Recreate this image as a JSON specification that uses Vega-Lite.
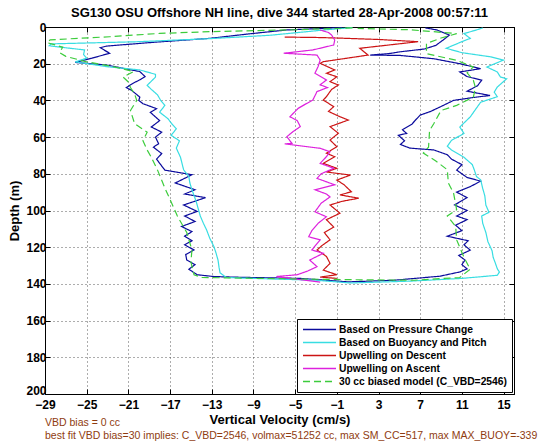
{
  "$schema": "https://vega.github.io/schema/vega-lite/v6.json",
  "width": 469,
  "height": 367,
  "autosize": {"type": "none"},
  "padding": {"left": 45, "top": 27, "right": 46, "bottom": 48},
  "background": "white",
  "title": {"text": "SG130 OSU Offshore NH line, dive 344 started 28-Apr-2008 00:57:11", "font": "Liberation Sans", "fontSize": 13, "fontWeight": "bold", "color": "black", "anchor": "middle", "frame": "group", "offset": 1},
  "config": {
    "view": {"stroke": "black", "strokeWidth": 1},
    "axis": {"labelFont": "Liberation Sans", "labelFontSize": 12, "labelFontWeight": "bold", "labelColor": "black", "titleFont": "Liberation Sans", "titleFontSize": 13, "titleFontWeight": "bold", "titleColor": "black", "domainColor": "black", "tickColor": "black", "tickSize": -5, "labelFlush": false, "labelOverlap": false, "gridColor": "#333333", "gridDash": [1, 3], "gridOpacity": 0.8},
    "legend": {"orient": "bottom-right", "offset": 2, "strokeColor": "black", "fillColor": "white", "padding": 5, "labelFont": "Liberation Sans", "labelFontSize": 10.3, "labelFontWeight": "bold", "labelColor": "black", "symbolType": "stroke", "symbolSize": 1089, "symbolStrokeWidth": 1.5, "clipHeight": 11, "rowPadding": 2, "labelOffset": 2, "labelLimit": 400}
  },
  "resolve": {"axis": {"x": "independent", "y": "independent"}},
  "layer": [
    {
      "mark": {"type": "rule", "color": "black", "strokeWidth": 1},
      "encoding": {"x": {"datum": 0, "type": "quantitative", "axis": null}}
    },
    {
      "mark": {"type": "rule", "color": "black", "strokeWidth": 1, "strokeDash": [7, 4]},
      "encoding": {"x": {"datum": -27.2, "type": "quantitative", "axis": null}}
    },
    {
      "data": {"values": [
        {"s":"Based on Pressure Change","w":-0.5,"d":0.3},{"s":"Based on Pressure Change","w":-2.5,"d":0.8},{"s":"Based on Pressure Change","w":-5.8,"d":1.6},{"s":"Based on Pressure Change","w":-9.5,"d":3.8},{"s":"Based on Pressure Change","w":-13.2,"d":6.2},{"s":"Based on Pressure Change","w":-18.5,"d":8.3},{"s":"Based on Pressure Change","w":-23.1,"d":10.4},{"s":"Based on Pressure Change","w":-23.7,"d":11.3},{"s":"Based on Pressure Change","w":-22.8,"d":14.3},{"s":"Based on Pressure Change","w":-24.5,"d":17},{"s":"Based on Pressure Change","w":-26.1,"d":19.3},{"s":"Based on Pressure Change","w":-23.1,"d":20.7},{"s":"Based on Pressure Change","w":-21.5,"d":22.5},{"s":"Based on Pressure Change","w":-19.9,"d":24.3},{"s":"Based on Pressure Change","w":-19.4,"d":27},{"s":"Based on Pressure Change","w":-19.8,"d":28.5},{"s":"Based on Pressure Change","w":-20.5,"d":30.5},{"s":"Based on Pressure Change","w":-21.2,"d":33},{"s":"Based on Pressure Change","w":-20.7,"d":34.5},{"s":"Based on Pressure Change","w":-19.9,"d":38.2},{"s":"Based on Pressure Change","w":-20.0,"d":40},{"s":"Based on Pressure Change","w":-19.6,"d":41.8},{"s":"Based on Pressure Change","w":-18.3,"d":44.5},{"s":"Based on Pressure Change","w":-18.9,"d":46.5},{"s":"Based on Pressure Change","w":-18.6,"d":48},{"s":"Based on Pressure Change","w":-18.0,"d":51},{"s":"Based on Pressure Change","w":-18.8,"d":54.5},{"s":"Based on Pressure Change","w":-17.8,"d":57.3},{"s":"Based on Pressure Change","w":-18.4,"d":60},{"s":"Based on Pressure Change","w":-18.1,"d":63.6},{"s":"Based on Pressure Change","w":-18.6,"d":65.5},{"s":"Based on Pressure Change","w":-17.8,"d":69},{"s":"Based on Pressure Change","w":-18.3,"d":72},{"s":"Based on Pressure Change","w":-17.9,"d":75},{"s":"Based on Pressure Change","w":-17.5,"d":78},{"s":"Based on Pressure Change","w":-14.9,"d":80.5},{"s":"Based on Pressure Change","w":-16.5,"d":85},{"s":"Based on Pressure Change","w":-14.6,"d":88.7},{"s":"Based on Pressure Change","w":-15.6,"d":91},{"s":"Based on Pressure Change","w":-13.6,"d":93},{"s":"Based on Pressure Change","w":-15.7,"d":97},{"s":"Based on Pressure Change","w":-14.4,"d":100.5},{"s":"Based on Pressure Change","w":-15.6,"d":103},{"s":"Based on Pressure Change","w":-14.6,"d":106},{"s":"Based on Pressure Change","w":-15.9,"d":108.7},{"s":"Based on Pressure Change","w":-14.9,"d":111.5},{"s":"Based on Pressure Change","w":-15.6,"d":114},{"s":"Based on Pressure Change","w":-14.9,"d":116.5},{"s":"Based on Pressure Change","w":-15.6,"d":118.7},{"s":"Based on Pressure Change","w":-14.7,"d":121.5},{"s":"Based on Pressure Change","w":-15.5,"d":124},{"s":"Based on Pressure Change","w":-15.4,"d":127},{"s":"Based on Pressure Change","w":-14.6,"d":129.5},{"s":"Based on Pressure Change","w":-15.2,"d":132},{"s":"Based on Pressure Change","w":-14.4,"d":135},{"s":"Based on Pressure Change","w":-12.8,"d":136},{"s":"Based on Pressure Change","w":-10.2,"d":136.4},{"s":"Based on Pressure Change","w":-4.5,"d":137},{"s":"Based on Pressure Change","w":0.1,"d":138.9},{"s":"Based on Pressure Change","w":4.5,"d":138},{"s":"Based on Pressure Change","w":8.9,"d":135.8},{"s":"Based on Pressure Change","w":10.8,"d":133.5},{"s":"Based on Pressure Change","w":11.5,"d":131.8},{"s":"Based on Pressure Change","w":11.0,"d":129.5},{"s":"Based on Pressure Change","w":11.3,"d":127},{"s":"Based on Pressure Change","w":10.7,"d":124.5},{"s":"Based on Pressure Change","w":11.8,"d":121.6},{"s":"Based on Pressure Change","w":11.2,"d":118.7},{"s":"Based on Pressure Change","w":11.6,"d":116.5},{"s":"Based on Pressure Change","w":9.6,"d":114},{"s":"Based on Pressure Change","w":11.0,"d":111},{"s":"Based on Pressure Change","w":10.4,"d":108},{"s":"Based on Pressure Change","w":11.5,"d":105},{"s":"Based on Pressure Change","w":10.5,"d":103},{"s":"Based on Pressure Change","w":11.5,"d":100},{"s":"Based on Pressure Change","w":10.3,"d":97},{"s":"Based on Pressure Change","w":11.5,"d":93},{"s":"Based on Pressure Change","w":10.5,"d":90},{"s":"Based on Pressure Change","w":11.8,"d":87},{"s":"Based on Pressure Change","w":12.8,"d":84},{"s":"Based on Pressure Change","w":11.5,"d":82},{"s":"Based on Pressure Change","w":10.5,"d":78},{"s":"Based on Pressure Change","w":11.0,"d":75},{"s":"Based on Pressure Change","w":10.0,"d":72},{"s":"Based on Pressure Change","w":9.6,"d":69.6},{"s":"Based on Pressure Change","w":8.3,"d":67},{"s":"Based on Pressure Change","w":6.0,"d":66},{"s":"Based on Pressure Change","w":5.1,"d":64},{"s":"Based on Pressure Change","w":5.5,"d":62},{"s":"Based on Pressure Change","w":4.9,"d":59},{"s":"Based on Pressure Change","w":5.7,"d":58},{"s":"Based on Pressure Change","w":5.3,"d":56},{"s":"Based on Pressure Change","w":6.2,"d":53},{"s":"Based on Pressure Change","w":6.5,"d":51},{"s":"Based on Pressure Change","w":7.0,"d":48},{"s":"Based on Pressure Change","w":8.0,"d":46},{"s":"Based on Pressure Change","w":8.9,"d":43.6},{"s":"Based on Pressure Change","w":10.2,"d":40},{"s":"Based on Pressure Change","w":12.0,"d":38.5},{"s":"Based on Pressure Change","w":13.7,"d":37.3},{"s":"Based on Pressure Change","w":11.5,"d":35},{"s":"Based on Pressure Change","w":12.5,"d":32},{"s":"Based on Pressure Change","w":12.9,"d":29},{"s":"Based on Pressure Change","w":11.5,"d":27},{"s":"Based on Pressure Change","w":10.8,"d":24.5},{"s":"Based on Pressure Change","w":12.8,"d":22.7},{"s":"Based on Pressure Change","w":10.8,"d":20},{"s":"Based on Pressure Change","w":8.3,"d":17.3},{"s":"Based on Pressure Change","w":5.1,"d":15.5},{"s":"Based on Pressure Change","w":2.2,"d":15.3},{"s":"Based on Pressure Change","w":4.0,"d":14.5},{"s":"Based on Pressure Change","w":5.1,"d":13.5},{"s":"Based on Pressure Change","w":7.4,"d":12},{"s":"Based on Pressure Change","w":8.5,"d":10},{"s":"Based on Pressure Change","w":9.2,"d":7.1},{"s":"Based on Pressure Change","w":9.8,"d":4.4},{"s":"Based on Pressure Change","w":8.6,"d":1.6},{"s":"Based on Pressure Change","w":7.5,"d":0.5},

        {"s":"Based on Buoyancy and Pitch","w":0.5,"d":0.3},{"s":"Based on Buoyancy and Pitch","w":-2,"d":1.5},{"s":"Based on Buoyancy and Pitch","w":-7.4,"d":4.5},{"s":"Based on Buoyancy and Pitch","w":-13,"d":6.3},{"s":"Based on Buoyancy and Pitch","w":-20,"d":8},{"s":"Based on Buoyancy and Pitch","w":-28.4,"d":9.2},{"s":"Based on Buoyancy and Pitch","w":-28.6,"d":10.2},{"s":"Based on Buoyancy and Pitch","w":-27.5,"d":11},{"s":"Based on Buoyancy and Pitch","w":-25.2,"d":12.5},{"s":"Based on Buoyancy and Pitch","w":-25.3,"d":15},{"s":"Based on Buoyancy and Pitch","w":-25,"d":17},{"s":"Based on Buoyancy and Pitch","w":-26.1,"d":19},{"s":"Based on Buoyancy and Pitch","w":-23.1,"d":21.6},{"s":"Based on Buoyancy and Pitch","w":-19.9,"d":23.4},{"s":"Based on Buoyancy and Pitch","w":-18.4,"d":25.8},{"s":"Based on Buoyancy and Pitch","w":-18.4,"d":27.3},{"s":"Based on Buoyancy and Pitch","w":-19.2,"d":31.8},{"s":"Based on Buoyancy and Pitch","w":-18.8,"d":34},{"s":"Based on Buoyancy and Pitch","w":-18.2,"d":37},{"s":"Based on Buoyancy and Pitch","w":-17.9,"d":40},{"s":"Based on Buoyancy and Pitch","w":-17.5,"d":42.7},{"s":"Based on Buoyancy and Pitch","w":-18.0,"d":46.4},{"s":"Based on Buoyancy and Pitch","w":-17.2,"d":50},{"s":"Based on Buoyancy and Pitch","w":-16.8,"d":53},{"s":"Based on Buoyancy and Pitch","w":-16.4,"d":55.5},{"s":"Based on Buoyancy and Pitch","w":-16.9,"d":59},{"s":"Based on Buoyancy and Pitch","w":-16.1,"d":62},{"s":"Based on Buoyancy and Pitch","w":-16.4,"d":66},{"s":"Based on Buoyancy and Pitch","w":-16.0,"d":71},{"s":"Based on Buoyancy and Pitch","w":-15.7,"d":77.8},{"s":"Based on Buoyancy and Pitch","w":-15.2,"d":81.5},{"s":"Based on Buoyancy and Pitch","w":-15.1,"d":85},{"s":"Based on Buoyancy and Pitch","w":-14.9,"d":88.7},{"s":"Based on Buoyancy and Pitch","w":-14.5,"d":95},{"s":"Based on Buoyancy and Pitch","w":-14.3,"d":99},{"s":"Based on Buoyancy and Pitch","w":-14.1,"d":103},{"s":"Based on Buoyancy and Pitch","w":-13.8,"d":107},{"s":"Based on Buoyancy and Pitch","w":-13.5,"d":110.5},{"s":"Based on Buoyancy and Pitch","w":-13.2,"d":115},{"s":"Based on Buoyancy and Pitch","w":-12.8,"d":119.6},{"s":"Based on Buoyancy and Pitch","w":-12.6,"d":123},{"s":"Based on Buoyancy and Pitch","w":-12.4,"d":127},{"s":"Based on Buoyancy and Pitch","w":-12.3,"d":131},{"s":"Based on Buoyancy and Pitch","w":-12.2,"d":134},{"s":"Based on Buoyancy and Pitch","w":-11.6,"d":136.5},{"s":"Based on Buoyancy and Pitch","w":-10.2,"d":136.8},{"s":"Based on Buoyancy and Pitch","w":-3,"d":138},{"s":"Based on Buoyancy and Pitch","w":0.3,"d":139.5},{"s":"Based on Buoyancy and Pitch","w":6,"d":138.5},{"s":"Based on Buoyancy and Pitch","w":11,"d":137},{"s":"Based on Buoyancy and Pitch","w":14.4,"d":135.3},{"s":"Based on Buoyancy and Pitch","w":14.6,"d":133.5},{"s":"Based on Buoyancy and Pitch","w":14.4,"d":131.8},{"s":"Based on Buoyancy and Pitch","w":14.2,"d":128.5},{"s":"Based on Buoyancy and Pitch","w":14.0,"d":125.5},{"s":"Based on Buoyancy and Pitch","w":13.9,"d":122},{"s":"Based on Buoyancy and Pitch","w":13.5,"d":117},{"s":"Based on Buoyancy and Pitch","w":13.3,"d":112},{"s":"Based on Buoyancy and Pitch","w":13.0,"d":107},{"s":"Based on Buoyancy and Pitch","w":12.9,"d":103},{"s":"Based on Buoyancy and Pitch","w":13.6,"d":101},{"s":"Based on Buoyancy and Pitch","w":13.3,"d":97},{"s":"Based on Buoyancy and Pitch","w":13.2,"d":92},{"s":"Based on Buoyancy and Pitch","w":13.0,"d":88},{"s":"Based on Buoyancy and Pitch","w":12.8,"d":83.3},{"s":"Based on Buoyancy and Pitch","w":12.4,"d":81.5},{"s":"Based on Buoyancy and Pitch","w":12.2,"d":78},{"s":"Based on Buoyancy and Pitch","w":12.0,"d":75},{"s":"Based on Buoyancy and Pitch","w":11.2,"d":71},{"s":"Based on Buoyancy and Pitch","w":10.0,"d":67},{"s":"Based on Buoyancy and Pitch","w":9.6,"d":65},{"s":"Based on Buoyancy and Pitch","w":10.0,"d":61.8},{"s":"Based on Buoyancy and Pitch","w":11.2,"d":58},{"s":"Based on Buoyancy and Pitch","w":10.8,"d":54.5},{"s":"Based on Buoyancy and Pitch","w":11.8,"d":49},{"s":"Based on Buoyancy and Pitch","w":12.3,"d":45},{"s":"Based on Buoyancy and Pitch","w":12.8,"d":41},{"s":"Based on Buoyancy and Pitch","w":14.4,"d":38},{"s":"Based on Buoyancy and Pitch","w":14.1,"d":35.5},{"s":"Based on Buoyancy and Pitch","w":14.4,"d":32.7},{"s":"Based on Buoyancy and Pitch","w":15.3,"d":28.2},{"s":"Based on Buoyancy and Pitch","w":14.7,"d":27.3},{"s":"Based on Buoyancy and Pitch","w":14.4,"d":24.5},{"s":"Based on Buoyancy and Pitch","w":13.4,"d":21.8},{"s":"Based on Buoyancy and Pitch","w":15.0,"d":18},{"s":"Based on Buoyancy and Pitch","w":13.7,"d":16.2},{"s":"Based on Buoyancy and Pitch","w":11.0,"d":14},{"s":"Based on Buoyancy and Pitch","w":9.5,"d":11.6},{"s":"Based on Buoyancy and Pitch","w":11.0,"d":8},{"s":"Based on Buoyancy and Pitch","w":11.8,"d":6.2},{"s":"Based on Buoyancy and Pitch","w":11.2,"d":3.6},{"s":"Based on Buoyancy and Pitch","w":12.4,"d":1.6},{"s":"Based on Buoyancy and Pitch","w":13.0,"d":0.5},

        {"s":"Upwelling on Descent","w":-6,"d":5.5},{"s":"Upwelling on Descent","w":-3,"d":5.7},{"s":"Upwelling on Descent","w":-1,"d":6},{"s":"Upwelling on Descent","w":3,"d":6.8},{"s":"Upwelling on Descent","w":6.8,"d":8},{"s":"Upwelling on Descent","w":4,"d":9.8},{"s":"Upwelling on Descent","w":1.2,"d":11.6},{"s":"Upwelling on Descent","w":2.0,"d":15.3},{"s":"Upwelling on Descent","w":-2.3,"d":18.9},{"s":"Upwelling on Descent","w":-2.6,"d":19.8},{"s":"Upwelling on Descent","w":-1.2,"d":23.4},{"s":"Upwelling on Descent","w":-2.0,"d":25.2},{"s":"Upwelling on Descent","w":-1.0,"d":27.1},{"s":"Upwelling on Descent","w":-1.65,"d":29.8},{"s":"Upwelling on Descent","w":-0.85,"d":31.6},{"s":"Upwelling on Descent","w":-1.5,"d":34},{"s":"Upwelling on Descent","w":-2.0,"d":38},{"s":"Upwelling on Descent","w":-2.3,"d":39.8},{"s":"Upwelling on Descent","w":-1.3,"d":43.4},{"s":"Upwelling on Descent","w":-1.8,"d":46},{"s":"Upwelling on Descent","w":-0.7,"d":48.9},{"s":"Upwelling on Descent","w":0.1,"d":50.7},{"s":"Upwelling on Descent","w":-1.65,"d":54.3},{"s":"Upwelling on Descent","w":-0.85,"d":57.9},{"s":"Upwelling on Descent","w":-1.65,"d":61.6},{"s":"Upwelling on Descent","w":-1.0,"d":65.2},{"s":"Upwelling on Descent","w":-2.0,"d":68.8},{"s":"Upwelling on Descent","w":-1.2,"d":70.7},{"s":"Upwelling on Descent","w":-2.3,"d":74.3},{"s":"Upwelling on Descent","w":-1.0,"d":77},{"s":"Upwelling on Descent","w":-2.0,"d":79},{"s":"Upwelling on Descent","w":0.3,"d":80.7},{"s":"Upwelling on Descent","w":-1.0,"d":83.4},{"s":"Upwelling on Descent","w":-0.3,"d":86},{"s":"Upwelling on Descent","w":0.4,"d":89.8},{"s":"Upwelling on Descent","w":-0.7,"d":91.5},{"s":"Upwelling on Descent","w":1.1,"d":93.3},{"s":"Upwelling on Descent","w":-0.5,"d":95},{"s":"Upwelling on Descent","w":-1.65,"d":97},{"s":"Upwelling on Descent","w":-0.7,"d":101.5},{"s":"Upwelling on Descent","w":-2.0,"d":105},{"s":"Upwelling on Descent","w":-1.3,"d":109},{"s":"Upwelling on Descent","w":-2.2,"d":112},{"s":"Upwelling on Descent","w":-1.65,"d":116},{"s":"Upwelling on Descent","w":-2.4,"d":119},{"s":"Upwelling on Descent","w":-2.9,"d":121.5},{"s":"Upwelling on Descent","w":-2.0,"d":125},{"s":"Upwelling on Descent","w":-1.65,"d":128.8},{"s":"Upwelling on Descent","w":-2.3,"d":132.5},{"s":"Upwelling on Descent","w":-1.0,"d":135},{"s":"Upwelling on Descent","w":-2.6,"d":136.3},{"s":"Upwelling on Descent","w":-1.0,"d":137},

        {"s":"Upwelling on Ascent","w":-2.6,"d":1.6},{"s":"Upwelling on Ascent","w":-1.8,"d":3},{"s":"Upwelling on Ascent","w":-1.5,"d":4.4},{"s":"Upwelling on Ascent","w":-1.2,"d":7.1},{"s":"Upwelling on Ascent","w":-1.3,"d":9.8},{"s":"Upwelling on Ascent","w":-3.3,"d":12.5},{"s":"Upwelling on Ascent","w":-6.1,"d":14.3},{"s":"Upwelling on Ascent","w":-4.5,"d":14.8},{"s":"Upwelling on Ascent","w":-2.9,"d":15.3},{"s":"Upwelling on Ascent","w":-2.6,"d":18},{"s":"Upwelling on Ascent","w":-2.8,"d":21.6},{"s":"Upwelling on Ascent","w":-3.1,"d":25.2},{"s":"Upwelling on Ascent","w":-2.0,"d":28.9},{"s":"Upwelling on Ascent","w":-2.6,"d":31.5},{"s":"Upwelling on Ascent","w":-1.9,"d":33},{"s":"Upwelling on Ascent","w":-2.9,"d":35.2},{"s":"Upwelling on Ascent","w":-3.3,"d":39.8},{"s":"Upwelling on Ascent","w":-4.0,"d":42},{"s":"Upwelling on Ascent","w":-4.7,"d":44.3},{"s":"Upwelling on Ascent","w":-5.5,"d":48.9},{"s":"Upwelling on Ascent","w":-4.8,"d":51},{"s":"Upwelling on Ascent","w":-4.5,"d":54.3},{"s":"Upwelling on Ascent","w":-5.2,"d":57},{"s":"Upwelling on Ascent","w":-5.8,"d":59.8},{"s":"Upwelling on Ascent","w":-5.3,"d":63.4},{"s":"Upwelling on Ascent","w":-6.0,"d":63.7},{"s":"Upwelling on Ascent","w":-2.6,"d":66.1},{"s":"Upwelling on Ascent","w":-1.65,"d":68},{"s":"Upwelling on Ascent","w":-2.0,"d":70.7},{"s":"Upwelling on Ascent","w":-2.6,"d":74.3},{"s":"Upwelling on Ascent","w":-1.3,"d":77},{"s":"Upwelling on Ascent","w":-2.5,"d":80},{"s":"Upwelling on Ascent","w":-2.9,"d":82.5},{"s":"Upwelling on Ascent","w":-1.2,"d":86},{"s":"Upwelling on Ascent","w":-3.1,"d":88.7},{"s":"Upwelling on Ascent","w":-2.0,"d":91},{"s":"Upwelling on Ascent","w":-1.65,"d":92.6},{"s":"Upwelling on Ascent","w":-2.5,"d":96},{"s":"Upwelling on Ascent","w":-3.1,"d":100.7},{"s":"Upwelling on Ascent","w":-2.0,"d":103.4},{"s":"Upwelling on Ascent","w":-2.8,"d":107},{"s":"Upwelling on Ascent","w":-3.4,"d":111},{"s":"Upwelling on Ascent","w":-3.7,"d":114.3},{"s":"Upwelling on Ascent","w":-2.6,"d":116},{"s":"Upwelling on Ascent","w":-3.4,"d":121.5},{"s":"Upwelling on Ascent","w":-2.3,"d":123.3},{"s":"Upwelling on Ascent","w":-3.6,"d":127},{"s":"Upwelling on Ascent","w":-2.9,"d":130.6},{"s":"Upwelling on Ascent","w":-3.8,"d":133},{"s":"Upwelling on Ascent","w":-4.8,"d":135},{"s":"Upwelling on Ascent","w":-6.8,"d":136},{"s":"Upwelling on Ascent","w":-2.6,"d":139},

        {"s":"30 cc biased model (C_VBD=2546)","w":0.5,"d":0.5},{"s":"30 cc biased model (C_VBD=2546)","w":-5,"d":1.5},{"s":"30 cc biased model (C_VBD=2546)","w":-12.9,"d":2.5},{"s":"30 cc biased model (C_VBD=2546)","w":-18,"d":3.5},{"s":"30 cc biased model (C_VBD=2546)","w":-22.8,"d":5.3},{"s":"30 cc biased model (C_VBD=2546)","w":-28.5,"d":7},{"s":"30 cc biased model (C_VBD=2546)","w":-28.8,"d":8.5},{"s":"30 cc biased model (C_VBD=2546)","w":-27.3,"d":11},{"s":"30 cc biased model (C_VBD=2546)","w":-27.6,"d":14},{"s":"30 cc biased model (C_VBD=2546)","w":-27.0,"d":16},{"s":"30 cc biased model (C_VBD=2546)","w":-25.0,"d":19},{"s":"30 cc biased model (C_VBD=2546)","w":-22.5,"d":21.5},{"s":"30 cc biased model (C_VBD=2546)","w":-20.5,"d":24.3},{"s":"30 cc biased model (C_VBD=2546)","w":-21.5,"d":27.3},{"s":"30 cc biased model (C_VBD=2546)","w":-21.0,"d":30},{"s":"30 cc biased model (C_VBD=2546)","w":-20.8,"d":33},{"s":"30 cc biased model (C_VBD=2546)","w":-20.4,"d":36.5},{"s":"30 cc biased model (C_VBD=2546)","w":-20.2,"d":40},{"s":"30 cc biased model (C_VBD=2546)","w":-20.8,"d":45.5},{"s":"30 cc biased model (C_VBD=2546)","w":-20.4,"d":52.7},{"s":"30 cc biased model (C_VBD=2546)","w":-19.2,"d":57.3},{"s":"30 cc biased model (C_VBD=2546)","w":-19.6,"d":62},{"s":"30 cc biased model (C_VBD=2546)","w":-19.2,"d":67},{"s":"30 cc biased model (C_VBD=2546)","w":-18.8,"d":71},{"s":"30 cc biased model (C_VBD=2546)","w":-18.2,"d":78},{"s":"30 cc biased model (C_VBD=2546)","w":-17.5,"d":87.8},{"s":"30 cc biased model (C_VBD=2546)","w":-17.0,"d":94},{"s":"30 cc biased model (C_VBD=2546)","w":-16.3,"d":103},{"s":"30 cc biased model (C_VBD=2546)","w":-15.4,"d":112},{"s":"30 cc biased model (C_VBD=2546)","w":-14.9,"d":121.5},{"s":"30 cc biased model (C_VBD=2546)","w":-15.0,"d":128},{"s":"30 cc biased model (C_VBD=2546)","w":-14.7,"d":135},{"s":"30 cc biased model (C_VBD=2546)","w":-14.0,"d":136.5},{"s":"30 cc biased model (C_VBD=2546)","w":0,"d":137.7},{"s":"30 cc biased model (C_VBD=2546)","w":6.4,"d":138},{"s":"30 cc biased model (C_VBD=2546)","w":10.8,"d":136.5},{"s":"30 cc biased model (C_VBD=2546)","w":11.8,"d":132},{"s":"30 cc biased model (C_VBD=2546)","w":11.2,"d":125.5},{"s":"30 cc biased model (C_VBD=2546)","w":10.5,"d":116},{"s":"30 cc biased model (C_VBD=2546)","w":10.4,"d":108.7},{"s":"30 cc biased model (C_VBD=2546)","w":9.6,"d":103},{"s":"30 cc biased model (C_VBD=2546)","w":10.5,"d":99.6},{"s":"30 cc biased model (C_VBD=2546)","w":10.2,"d":90.5},{"s":"30 cc biased model (C_VBD=2546)","w":9.7,"d":85},{"s":"30 cc biased model (C_VBD=2546)","w":9.6,"d":77.8},{"s":"30 cc biased model (C_VBD=2546)","w":8.5,"d":73},{"s":"30 cc biased model (C_VBD=2546)","w":7.3,"d":68.7},{"s":"30 cc biased model (C_VBD=2546)","w":7.8,"d":65.5},{"s":"30 cc biased model (C_VBD=2546)","w":7.9,"d":56.4},{"s":"30 cc biased model (C_VBD=2546)","w":8.3,"d":52.7},{"s":"30 cc biased model (C_VBD=2546)","w":9.0,"d":45.5},{"s":"30 cc biased model (C_VBD=2546)","w":10.5,"d":42.7},{"s":"30 cc biased model (C_VBD=2546)","w":12.1,"d":38.2},{"s":"30 cc biased model (C_VBD=2546)","w":12.3,"d":33},{"s":"30 cc biased model (C_VBD=2546)","w":12.1,"d":29},{"s":"30 cc biased model (C_VBD=2546)","w":11.5,"d":25},{"s":"30 cc biased model (C_VBD=2546)","w":12.1,"d":21.8},{"s":"30 cc biased model (C_VBD=2546)","w":10.5,"d":18.2},{"s":"30 cc biased model (C_VBD=2546)","w":7.6,"d":14.5},{"s":"30 cc biased model (C_VBD=2546)","w":7.6,"d":9},{"s":"30 cc biased model (C_VBD=2546)","w":9.0,"d":6},{"s":"30 cc biased model (C_VBD=2546)","w":10.5,"d":3.6},{"s":"30 cc biased model (C_VBD=2546)","w":6,"d":1.5},{"s":"30 cc biased model (C_VBD=2546)","w":1,"d":0.8}
      ]},
      "mark": {"type": "line", "strokeWidth": 1.2},
      "encoding": {
        "x": {"field": "w", "type": "quantitative", "scale": {"domain": [-29, 16], "nice": false, "zero": false},
              "axis": {"orient": "bottom", "values": [-29, -25, -21, -17, -13, -9, -5, -1, 3, 7, 11, 15], "title": "Vertical Velocity (cm/s)", "labelPadding": 10, "titlePadding": 3, "grid": true}},
        "y": {"field": "d", "type": "quantitative", "scale": {"domain": [0, 200], "reverse": true, "nice": false, "zero": false},
              "axis": {"orient": "left", "values": [0, 20, 40, 60, 80, 100, 120, 140, 160, 180, 200], "title": "Depth (m)", "labelPadding": 4, "titlePadding": 4, "grid": true,
                       "labelOffset": {"condition": {"test": "datum.value === 200", "value": -4}, "value": 0}}},
        "color": {"field": "s", "type": "nominal",
                  "scale": {"domain": ["Based on Pressure Change", "Based on Buoyancy and Pitch", "Upwelling on Descent", "Upwelling on Ascent", "30 cc biased model (C_VBD=2546)"], "range": ["#0b0b9c", "#38dde2", "#cc1414", "#dd22dd", "#3ccc3c"]},
                  "legend": {"title": null}},
        "strokeDash": {"field": "s", "type": "nominal",
                  "scale": {"domain": ["Based on Pressure Change", "Based on Buoyancy and Pitch", "Upwelling on Descent", "Upwelling on Ascent", "30 cc biased model (C_VBD=2546)"], "range": [[1, 0], [1, 0], [1, 0], [1, 0], [7, 4]]},
                  "legend": {"title": null}},
        "order": {"value": null}
      }
    },
    {
      "data": {"values": [{"note": ["VBD bias = 0 cc", "best fit VBD bias=30 implies: C_VBD=2546, volmax=51252 cc, max SM_CC=517, max MAX_BUOY=-339"]}]},
      "mark": {"type": "text", "align": "left", "baseline": "alphabetic", "font": "Liberation Sans", "fontSize": 10.5, "color": "#8f3c10", "lineHeight": 12.7},
      "encoding": {
        "x": {"datum": -29, "type": "quantitative", "axis": {"orient": "top", "labels": false, "grid": false, "title": null, "values": [-29, -25, -21, -17, -13, -9, -5, -1, 3, 7, 11, 15]}},
        "y": {"datum": 217.4, "type": "quantitative", "axis": {"orient": "right", "labels": false, "grid": false, "title": null, "values": [0, 20, 40, 60, 80, 100, 120, 140, 160, 180, 200]}},
        "text": {"field": "note"}
      }
    }
  ]
}
